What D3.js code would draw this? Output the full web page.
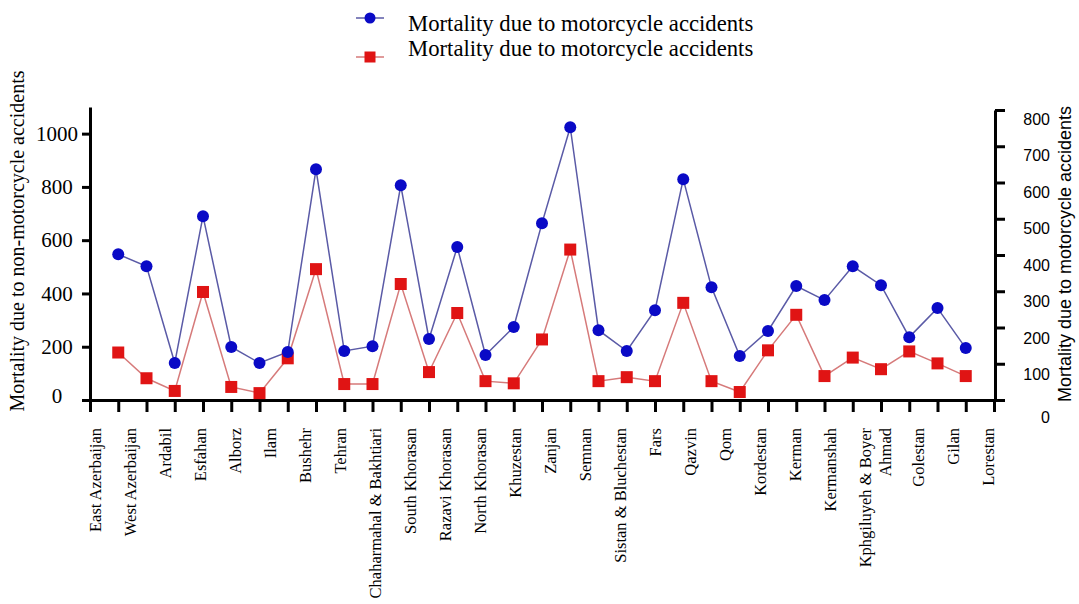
<!DOCTYPE html>
<html><head><meta charset="utf-8">
<script src="https://cdn.jsdelivr.net/npm/d3@7"></script>
<style>body{margin:0;background:#fff} svg{display:block}</style>
</head><body><svg id="c" width="1079" height="604"></svg>
<script>
const provinces = ["East Azerbaijan","West Azerbaijan","Ardabil","Esfahan","Alborz","Ilam","Bushehr","Tehran","Chaharmahal & Bakhtiari","South Khorasan","Razavi Khorasan","North Khorasan","Khuzestan","Zanjan","Semnan","Sistan & Bluchestan","Fars","Qazvin","Qom","Kordestan","Kerman","Kermanshah","Kphgiluyeh & Boyer\nAhmad","Golestan","Gilan","Lorestan"];
const nonMotorcycle = [547,502,139,690,199,139,180,866,184,202,806,229,574,169,274,664,1024,262,184,337,829,423,165,259,428,375,502,431,236,345,195];
const motorcycle = [131,60,25,298,36,19,115,361,44,44,320,77,240,52,46,167,415,52,63,52,268,52,22,137,235,66,117,85,134,101,66];
const leftTicks = [0,200,400,600,800,1000];
const rightTicks = [0,100,200,300,400,500,600,700,800];
const legendLabels = ["Mortality due to motorcycle accidents","Mortality due to motorcycle accidents"];
const leftTitle = "Mortality due to non-motorcycle accidents";
const rightTitle = "Mortality due to motorcycle accidents";

const svg = d3.select("#c");
const serif = "'Liberation Serif', 'Times New Roman', serif";
const sans = "'Liberation Sans', Arial, sans-serif";
const blueLine = "#5a5aa6", blueDot = "#0a0ac6", redLine = "#d67a7a", redDot = "#e01414";

const nSlots = nonMotorcycle.length + 1;
const x = d3.scaleLinear().domain([0, nSlots]).range([90, 994]);
const yL = d3.scaleLinear().domain([0, 1100]).range([400, 107]);
const yR = d3.scaleLinear().domain([0, 800]).range([400, 110]);

// bottom axis
const gx = svg.append("g").attr("transform","translate(0,400)")
  .call(d3.axisBottom(x).tickValues(d3.range(nSlots+1)).tickFormat("").tickSize(12).tickSizeOuter(0));
gx.select(".domain").attr("stroke","#000").attr("stroke-width",3);
gx.selectAll(".tick line").attr("stroke","#000").attr("stroke-width",3);

// left axis
const gl = svg.append("g").attr("transform","translate(90,0)")
  .call(d3.axisLeft(yL).tickValues(leftTicks).tickFormat(d3.format("d")).tickSize(8).tickSizeOuter(0));
gl.attr("font-family",null).attr("font-size",null);
gl.select(".domain").attr("stroke","#000").attr("stroke-width",3);
gl.selectAll(".tick line").attr("stroke","#000").attr("stroke-width",3);
gl.selectAll(".tick text").attr("x",-33).attr("text-anchor","middle")
  .style("font-family",serif).style("font-size","21px").attr("fill","#000");
gl.selectAll(".tick").filter(d=>d===0).select("text").attr("dy","0.12em");

// right axis
const gr = svg.append("g").attr("transform","translate(995,0)")
  .call(d3.axisRight(yR).tickValues(rightTicks).tickSize(10).tickSizeOuter(0));
gr.attr("font-family",null).attr("font-size",null);
gr.select(".domain").attr("stroke","#000").attr("stroke-width",3);
gr.selectAll(".tick line").attr("stroke","#000").attr("stroke-width",3);
gr.selectAll(".tick text").attr("x",55).attr("text-anchor","end").attr("dy","0.32em")
  .attr("transform",d=>`translate(0,${11 + d/800*-2 + (d===0?6:0)})`)
  .style("font-family",sans).style("font-size","16px").attr("fill","#000");

// category labels
const xl = d3.scalePoint().domain(provinces).range([95, 95 + 35*(provinces.length-1)]);
let shift = 0;
provinces.forEach(p => {
  const lines = p.split("\n");
  const t = svg.append("text")
    .attr("transform",`translate(${xl(p)+shift},428) rotate(-90)`)
    .attr("text-anchor","end").style("font-family",serif).style("font-size","16.5px").attr("fill","#000");
  lines.forEach((ln,k) => t.append("tspan").attr("x",0).attr("dy", k===0 ? "0.35em" : "20px").text(ln));
  shift += (lines.length-1)*18;
});

// lines
const lineL = d3.line().x((d,i)=>x(i+1)).y(d=>yL(d));
const lineR = d3.line().x((d,i)=>x(i+1)).y(d=>yR(d));
svg.append("path").datum(motorcycle).attr("d",lineR).attr("fill","none").attr("stroke",redLine).attr("stroke-width",1.5);
svg.append("path").datum(nonMotorcycle).attr("d",lineL).attr("fill","none").attr("stroke",blueLine).attr("stroke-width",1.5);
svg.selectAll("rect.m").data(motorcycle).join("rect").attr("class","m")
  .attr("x",(d,i)=>x(i+1)-6).attr("y",d=>yR(d)-6).attr("width",12).attr("height",12).attr("fill",redDot);
svg.selectAll("circle.n").data(nonMotorcycle).join("circle").attr("class","n")
  .attr("cx",(d,i)=>x(i+1)).attr("cy",d=>yL(d)).attr("r",6).attr("fill",blueDot);

// axis titles
svg.append("text").attr("transform","translate(24,241) rotate(-90)").attr("text-anchor","middle")
  .style("font-family",serif).style("font-size","20px").attr("fill","#000").text(leftTitle);
svg.append("text").attr("transform","translate(1071,254) rotate(-90)").attr("text-anchor","middle")
  .style("font-family",sans).style("font-size","18px").attr("fill","#000").text(rightTitle);

// legend
const lg = svg.append("g");
lg.append("line").attr("x1",356).attr("x2",384).attr("y1",18).attr("y2",18).attr("stroke",blueLine).attr("stroke-width",1.5);
lg.append("circle").attr("cx",370).attr("cy",18).attr("r",5.5).attr("fill",blueDot);
lg.append("line").attr("x1",356).attr("x2",384).attr("y1",57).attr("y2",57).attr("stroke",redLine).attr("stroke-width",1.5);
lg.append("rect").attr("x",364.5).attr("y",51.5).attr("width",11).attr("height",11).attr("fill",redDot);
legendLabels.forEach((t,i)=>{
  lg.append("text").attr("x",408).attr("y",31 + i*25).style("font-family",serif).style("font-size","22.7px").attr("fill","#000").text(t);
});
</script></body></html>
